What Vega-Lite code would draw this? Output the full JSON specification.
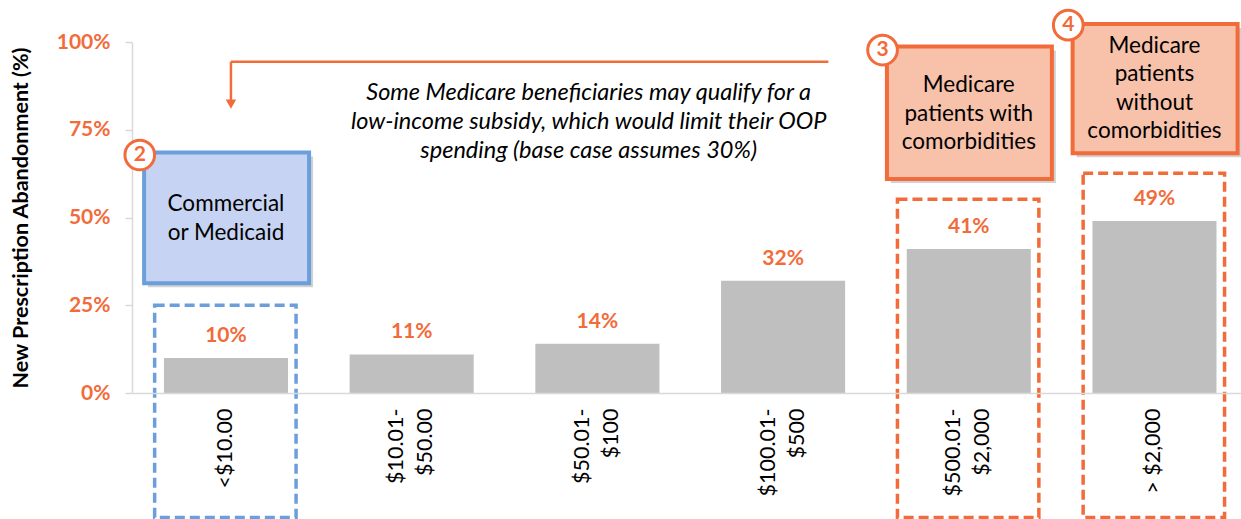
{
  "$schema": "https://vega.github.io/schema/vega-lite/v6.json",
  "width": 1109,
  "height": 351,
  "autosize": {"type": "none"},
  "padding": {"left": 132, "top": 42, "right": 0, "bottom": 126},
  "background": "white",
  "config": {"view": {"stroke": null}, "font": "Lato"},
  "datasets": {
    "bars": [
      {"cat": "<$10.00", "value": 10, "label": "10%"},
      {"cat": "$10.01-$50.00", "value": 11, "label": "11%"},
      {"cat": "$50.01-$100", "value": 14, "label": "14%"},
      {"cat": "$100.01-$500", "value": 32, "label": "32%"},
      {"cat": "$500.01-$2,000", "value": 41, "label": "41%"},
      {"cat": "> $2,000", "value": 49, "label": "49%"}
    ],
    "dashed": [
      {"cat": "<$10.00", "group": "Commercial", "top": 25, "bottom": -35.5},
      {"cat": "$500.01-$2,000", "group": "Medicare", "top": 55.2, "bottom": -35.5},
      {"cat": "> $2,000", "group": "Medicare", "top": 62.6, "bottom": -35.5}
    ],
    "boxes": [
      {"cat": "<$10.00", "group": "Commercial", "badge": "2", "label": "Commercial\nor Medicaid", "top": 68.5, "bottom": 31.3, "firstLine": 53.8, "badgeY": 67.8},
      {"cat": "$500.01-$2,000", "group": "Medicare", "badge": "3", "label": "Medicare\npatients with\ncomorbidities", "top": 98.7, "bottom": 61, "firstLine": 87.7, "badgeY": 97.7},
      {"cat": "> $2,000", "group": "Medicare", "badge": "4", "label": "Medicare\npatients\nwithout\ncomorbidities", "top": 105.1, "bottom": 68.3, "firstLine": 98.9, "badgeY": 104.8}
    ],
    "arrow": [
      {"from": "<$10.00", "to": "$100.01-$500", "y": 94.4, "yEnd": 83.5, "tip": 82.3}
    ],
    "note": [
      {"cat": "$50.01-$100", "y": 85.4, "text": "Some Medicare beneficiaries may qualify for a\nlow-income subsidy, which would limit their OOP\nspending (base case assumes 30%)"}
    ]
  },
  "layer": [
    {
      "data": {"name": "dashed"},
      "mark": {"type": "rect", "fill": null, "strokeWidth": 3.5, "strokeDash": [10, 5]},
      "encoding": {
        "x": {"field": "cat", "type": "nominal", "sort": null, "bandPosition": -0.075,
          "scale": {"domain": ["<$10.00", "$10.01-$50.00", "$50.01-$100", "$100.01-$500", "$500.01-$2,000", "> $2,000"], "paddingInner": 0.332, "paddingOuter": 0.152, "align": 0.566}},
        "x2": {"field": "cat", "bandPosition": 1.065},
        "y": {"field": "top", "type": "quantitative", "scale": {"domain": [0, 100], "nice": false}},
        "y2": {"field": "bottom"},
        "stroke": {"field": "group", "type": "nominal", "legend": null, "scale": {"domain": ["Commercial", "Medicare"], "range": ["#6A9FDB", "#F26B3A"]}}
      }
    },
    {
      "data": {"name": "bars"},
      "mark": {"type": "bar", "color": "#BFBFBF"},
      "encoding": {
        "x": {
          "field": "cat", "type": "nominal", "sort": null,
          "scale": {"domain": ["<$10.00", "$10.01-$50.00", "$50.01-$100", "$100.01-$500", "$500.01-$2,000", "> $2,000"], "paddingInner": 0.332, "paddingOuter": 0.152, "align": 0.566},
          "axis": {
            "title": null, "labelAngle": 270, "labelAlign": "right", "labelBaseline": "middle",
            "labelFont": "Lato", "labelFontSize": 21.5, "labelColor": "black", "labelPadding": 15,
            "labelLineHeight": 29, "labelLimit": 300, "ticks": false, "domainColor": "#D9D9D9", "domainWidth": 1.5,
            "labelOffset": {"condition": {"test": "indexof(datum.value, '-') > 0", "value": -14.5}, "value": 0},
            "labelExpr": "indexof(datum.label, '-') > 0 ? [slice(datum.label, 0, indexof(datum.label, '-') + 1), slice(datum.label, indexof(datum.label, '-') + 1)] : datum.label"
          }
        },
        "y": {
          "field": "value", "type": "quantitative",
          "scale": {"domain": [0, 100], "nice": false},
          "axis": {
            "values": [0, 25, 50, 75, 100], "labelExpr": "datum.value + '%'", "grid": false,
            "domainColor": "#D9D9D9", "domainWidth": 1.5, "tickColor": "#D9D9D9", "tickSize": 7, "tickWidth": 1.5,
            "labelFont": "Lato", "labelFontSize": 21, "labelFontWeight": "bold", "labelColor": "#F26B3A", "labelPadding": 15,
            "title": "New Prescription Abandonment (%)", "titleFont": "Lato", "titleFontSize": 21.5, "titleFontWeight": "bold",
            "titleColor": "black", "titlePadding": 24
          }
        }
      }
    },
    {
      "data": {"name": "bars"},
      "mark": {"type": "text", "font": "Lato", "fontSize": 21, "fontWeight": "bold", "color": "#F26B3A", "baseline": "alphabetic", "dy": -16},
      "encoding": {
        "x": {"field": "cat", "type": "nominal", "sort": null, "bandPosition": 0.5,
          "scale": {"domain": ["<$10.00", "$10.01-$50.00", "$50.01-$100", "$100.01-$500", "$500.01-$2,000", "> $2,000"], "paddingInner": 0.332, "paddingOuter": 0.152, "align": 0.566}},
        "y": {"field": "value", "type": "quantitative", "scale": {"domain": [0, 100], "nice": false}},
        "text": {"field": "label"}
      }
    },
    {
      "data": {"name": "boxes"},
      "mark": {"type": "rect", "fill": "black", "opacity": 0.18, "xOffset": 4, "x2Offset": 4, "yOffset": 4, "y2Offset": 4},
      "encoding": {
        "x": {"field": "cat", "type": "nominal", "sort": null, "bandPosition": -0.16,
          "scale": {"domain": ["<$10.00", "$10.01-$50.00", "$50.01-$100", "$100.01-$500", "$500.01-$2,000", "> $2,000"], "paddingInner": 0.332, "paddingOuter": 0.152, "align": 0.566}},
        "x2": {"field": "cat", "bandPosition": 1.17},
        "y": {"field": "top", "type": "quantitative", "scale": {"domain": [0, 100], "nice": false}},
        "y2": {"field": "bottom"}
      }
    },
    {
      "data": {"name": "boxes"},
      "mark": {"type": "rect", "strokeWidth": 4},
      "encoding": {
        "x": {"field": "cat", "type": "nominal", "sort": null, "bandPosition": -0.16,
          "scale": {"domain": ["<$10.00", "$10.01-$50.00", "$50.01-$100", "$100.01-$500", "$500.01-$2,000", "> $2,000"], "paddingInner": 0.332, "paddingOuter": 0.152, "align": 0.566}},
        "x2": {"field": "cat", "bandPosition": 1.17},
        "y": {"field": "top", "type": "quantitative", "scale": {"domain": [0, 100], "nice": false}},
        "y2": {"field": "bottom"},
        "fill": {"field": "group", "type": "nominal", "legend": null, "scale": {"domain": ["Commercial", "Medicare"], "range": ["#C6D3F2", "#F8C1AA"]}},
        "stroke": {"field": "group", "type": "nominal", "legend": null, "scale": {"domain": ["Commercial", "Medicare"], "range": ["#5B8FD3", "#F26B3A"]}}
      }
    },
    {
      "data": {"name": "boxes"},
      "mark": {"type": "text", "font": "Lato", "fontSize": 22.5, "color": "black", "align": "center", "baseline": "middle", "lineBreak": "\n", "lineHeight": 28.5},
      "encoding": {
        "x": {"field": "cat", "type": "nominal", "sort": null, "bandPosition": 0.5,
          "scale": {"domain": ["<$10.00", "$10.01-$50.00", "$50.01-$100", "$100.01-$500", "$500.01-$2,000", "> $2,000"], "paddingInner": 0.332, "paddingOuter": 0.152, "align": 0.566}},
        "y": {"field": "firstLine", "type": "quantitative", "scale": {"domain": [0, 100], "nice": false}},
        "text": {"field": "label"}
      }
    },
    {
      "data": {"name": "boxes"},
      "mark": {"type": "point", "shape": "circle", "filled": true, "fill": "white", "stroke": "#F26B3A", "strokeWidth": 3, "size": 880, "opacity": 1},
      "encoding": {
        "x": {"field": "cat", "type": "nominal", "sort": null, "bandPosition": -0.195,
          "scale": {"domain": ["<$10.00", "$10.01-$50.00", "$50.01-$100", "$100.01-$500", "$500.01-$2,000", "> $2,000"], "paddingInner": 0.332, "paddingOuter": 0.152, "align": 0.566}},
        "y": {"field": "badgeY", "type": "quantitative", "scale": {"domain": [0, 100], "nice": false}}
      }
    },
    {
      "data": {"name": "boxes"},
      "mark": {"type": "text", "font": "Lato", "fontSize": 21, "fontWeight": "bold", "color": "#F26B3A", "align": "center", "baseline": "middle"},
      "encoding": {
        "x": {"field": "cat", "type": "nominal", "sort": null, "bandPosition": -0.195,
          "scale": {"domain": ["<$10.00", "$10.01-$50.00", "$50.01-$100", "$100.01-$500", "$500.01-$2,000", "> $2,000"], "paddingInner": 0.332, "paddingOuter": 0.152, "align": 0.566}},
        "y": {"field": "badgeY", "type": "quantitative", "scale": {"domain": [0, 100], "nice": false}},
        "text": {"field": "badge"}
      }
    },
    {
      "data": {"name": "arrow"},
      "mark": {"type": "rule", "color": "#F26B3A", "strokeWidth": 2.5},
      "encoding": {
        "x": {"field": "from", "type": "nominal", "sort": null, "bandPosition": 0.54,
          "scale": {"domain": ["<$10.00", "$10.01-$50.00", "$50.01-$100", "$100.01-$500", "$500.01-$2,000", "> $2,000"], "paddingInner": 0.332, "paddingOuter": 0.152, "align": 0.566}},
        "x2": {"field": "to", "bandPosition": 0.865},
        "y": {"field": "y", "type": "quantitative", "scale": {"domain": [0, 100], "nice": false}}
      }
    },
    {
      "data": {"name": "arrow"},
      "mark": {"type": "rule", "color": "#F26B3A", "strokeWidth": 2.5},
      "encoding": {
        "x": {"field": "from", "type": "nominal", "sort": null, "bandPosition": 0.54,
          "scale": {"domain": ["<$10.00", "$10.01-$50.00", "$50.01-$100", "$100.01-$500", "$500.01-$2,000", "> $2,000"], "paddingInner": 0.332, "paddingOuter": 0.152, "align": 0.566}},
        "y": {"field": "y", "type": "quantitative", "scale": {"domain": [0, 100], "nice": false}},
        "y2": {"field": "yEnd"}
      }
    },
    {
      "data": {"name": "arrow"},
      "mark": {"type": "point", "shape": "triangle-down", "filled": true, "color": "#F26B3A", "size": 110, "opacity": 1},
      "encoding": {
        "x": {"field": "from", "type": "nominal", "sort": null, "bandPosition": 0.54,
          "scale": {"domain": ["<$10.00", "$10.01-$50.00", "$50.01-$100", "$100.01-$500", "$500.01-$2,000", "> $2,000"], "paddingInner": 0.332, "paddingOuter": 0.152, "align": 0.566}},
        "y": {"field": "tip", "type": "quantitative", "scale": {"domain": [0, 100], "nice": false}}
      }
    },
    {
      "data": {"name": "note"},
      "mark": {"type": "text", "font": "Lato", "fontSize": 23.5, "fontStyle": "italic", "color": "black", "align": "center", "baseline": "middle", "lineBreak": "\n", "lineHeight": 29},
      "encoding": {
        "x": {"field": "cat", "type": "nominal", "sort": null, "bandPosition": 0.43,
          "scale": {"domain": ["<$10.00", "$10.01-$50.00", "$50.01-$100", "$100.01-$500", "$500.01-$2,000", "> $2,000"], "paddingInner": 0.332, "paddingOuter": 0.152, "align": 0.566}},
        "y": {"field": "y", "type": "quantitative", "scale": {"domain": [0, 100], "nice": false}},
        "text": {"field": "text"}
      }
    }
  ]
}
